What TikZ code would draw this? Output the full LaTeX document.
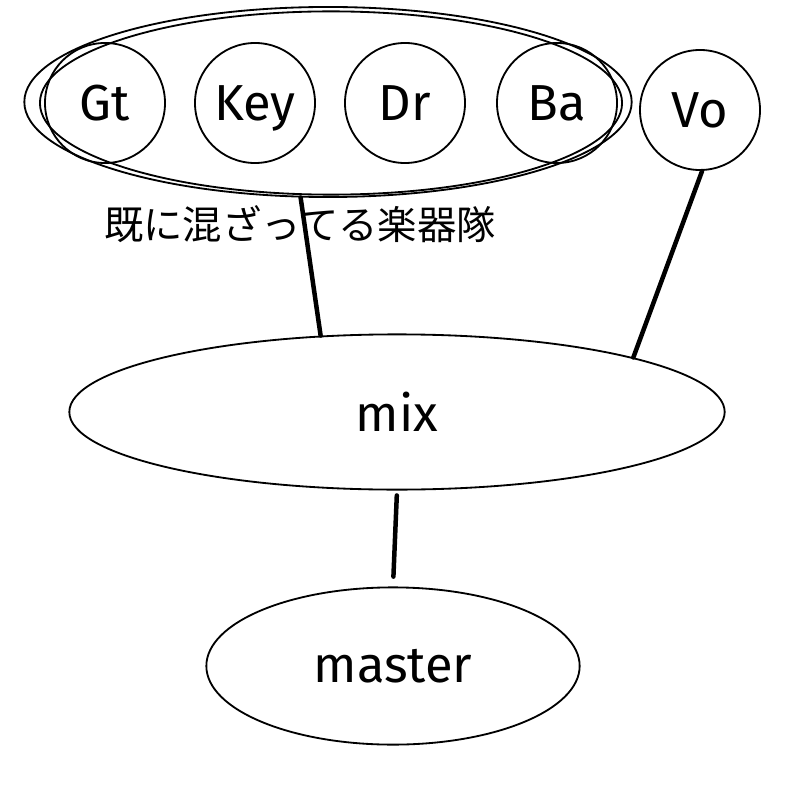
\documentclass[tikz,border=0pt]{standalone}
\usepackage{fontspec}
\setmainfont{Fira Sans}
\newfontfamily\jpfont{Noto Sans CJK JP}
\usetikzlibrary{shapes.geometric}

\begin{document}
\begin{tikzpicture}[x=0.025cm, y=-0.025cm]
    % --- 设置全局样式 ---
    % 乐器节点 (圆)
    \tikzset{PartStyle/.style = {
        shape=circle,           % 形状：圆
        draw=black,             % 边框颜色
        line width=1.3pt,       % 边框粗细
        minimum size=3cm,       % 直径
        inner sep=0pt,
        text height=25pt,       % 基线对齐
        text depth=0pt,
        font=\fontsize{36}{40}\selectfont
    }}

    % 混音节点 (椭圆)
    \tikzset{BusStyle/.style = {
        shape=ellipse,          % 形状：椭圆
        draw=black,
        line width=1.3pt,
        inner sep=0pt,
        font=\fontsize{36}{40}\selectfont
    }}

    % 连线样式
    \tikzset{WireStyle/.style = {
        line width=3.2pt,       % 线条粗细
        line cap=round,
        color=black
    }}

    \useasboundingbox (0,0) rectangle (800,800);

    % --- 定义节点 ---
    % 乐器组外框 (手绘两圈)
    \node[BusStyle, minimum width=15.18cm, minimum height=4.75cm] (band) at (328,102) {};
    \node[BusStyle, minimum width=14.55cm, minimum height=4.58cm] (bandtrace) at (331,103) {};
    \node[font=\jpfont\fontsize{28}{30}\selectfont] (bandlabel) at (300,224) {既に混ざってる楽器隊};

    % 上层节点
    \node[PartStyle] (Gt)  at (105,103) {Gt};
    \node[PartStyle] (Key) at (255,103) {Key};
    \node[PartStyle] (Dr)  at (405,103) {Dr};
    \node[PartStyle] (Ba)  at (557,103) {Ba};
    \node[PartStyle] (Vo)  at (700,110) {Vo};

    % 中间节点
    \node[BusStyle, minimum width=16.38cm, minimum height=3.88cm] (mix) at (397,412) {mix};

    % 下层节点
    \node[BusStyle, minimum width=9.33cm, minimum height=3.93cm] (master) at (393,666) {master};

    % --- 定义连线 ---
    \draw[WireStyle] (band.-106) -- (mix.135);  % 乐器组 -> mix
    \draw[WireStyle] (Vo.-88) -- (mix.13);       % Vo -> mix
    \draw[WireStyle, shorten <=3.5pt, shorten >=7pt] (mix.south) -- (master.north); % mix -> master
\end{tikzpicture}
\end{document}
